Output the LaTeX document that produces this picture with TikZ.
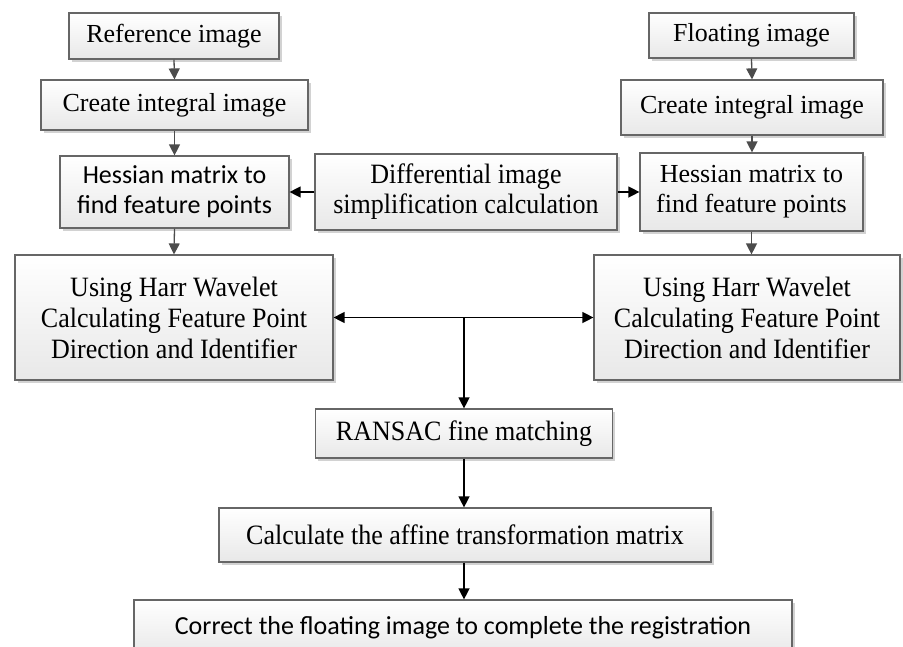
\documentclass[tikz,border=0pt]{standalone}
\usepackage{fontspec}
\setmainfont{Liberation Serif}
\newfontfamily\tallserif{Liberation Serif}[FakeStretch=0.93]
\newfontfamily\calib{Carlito}
\usetikzlibrary{arrows.meta,shadows}
\begin{document}
\begin{tikzpicture}[x=1pt,y=-1pt,
  box/.style={draw=black!60, line width=1.2pt, top color=white, bottom color=black!9,
    drop shadow={shadow xshift=2.5pt,shadow yshift=-2.5pt,fill=black!35,opacity=.5},
    inner sep=0pt, align=center, font=\fontsize{26}{30}\selectfont},
  sansbox/.style={box, font=\calib\fontsize{26}{30}\selectfont},
  tallbox/.style={box, font=\tallserif\fontsize{28}{31}\selectfont},
  garrow/.style={draw=black!70, line width=1.3pt, -{Triangle[length=11pt,width=11pt]}},
  barrow/.style={draw=black, line width=1.3pt, -{Triangle[length=11pt,width=11pt]}},
  bdarrow/.style={draw=black, line width=1.3pt, {Triangle[length=11pt,width=11pt]}-{Triangle[length=11pt,width=11pt]}},
]
\clip (0,0) rectangle (903,646);
\fill[white] (0,0) rectangle (903,646);

% left column
\node[box, minimum width=210pt, minimum height=46pt] (ref) at (174,36) {Reference image};
\node[box, minimum width=267pt, minimum height=50pt] (cil) at (174.5,105) {Create integral image};
\node[sansbox, minimum width=229pt, minimum height=72pt] (hl) at (174.5,192) {Hessian matrix to\\find feature points};
\node[tallbox, minimum width=318pt, minimum height=125pt] (harrl) at (174,317.5) {Using Harr Wavelet\\Calculating Feature Point\\Direction and Identifier};

% middle
\node[tallbox, font=\tallserif\fontsize{28}{30}\selectfont, minimum width=302pt, minimum height=76pt] (diff) at (466,192) {Differential image\\simplification calculation};

% right column
\node[box, minimum width=205pt, minimum height=45pt] (flt) at (751.5,35.5) {Floating image};
\node[box, minimum width=262pt, minimum height=55pt] (cir) at (752,107.5) {Create integral image};
\node[box, minimum width=223pt, minimum height=78pt] (hr) at (751.5,192) {Hessian matrix to\\find feature points};
\node[tallbox, minimum width=306pt, minimum height=125pt] (harrr) at (747,317.5) {Using Harr Wavelet\\Calculating Feature Point\\Direction and Identifier};

% bottom chain
\node[tallbox, minimum width=297pt, minimum height=49pt] (ransac) at (464,433.5) {RANSAC fine matching};
\node[tallbox, minimum width=492pt, minimum height=54pt] (affine) at (465,535) {Calculate the affine transformation matrix};
\node[sansbox, minimum width=658pt, minimum height=56pt] (corr) at (463,628) {Correct the floating image to complete the registration};

\coordinate (j) at (ransac.north |- harrl.east);

% arrows top
\draw[garrow] (ref.south) -- (cil.north);
\draw[garrow] (cil.south) -- (hl.north);
\draw[garrow] (hl.south) -- (harrl.north);
\draw[garrow] (flt.south) -- (cir.north);
\draw[garrow] (cir.south) -- (cir.south |- hr.north);
\draw[garrow] (hr.south) -- (hr.south |- harrr.north);
\draw[barrow] (diff.west) -- (hl.east);
\draw[barrow] (diff.east) -- (hr.west);

% arrows bottom
\draw[bdarrow] (harrl.east) -- (harrr.west);
\draw[barrow] (j) -- (ransac.north);
\draw[barrow] (ransac.south) -- (ransac.south |- affine.north);
\draw[barrow] (ransac.south |- affine.south) -- (ransac.south |- corr.north);
\end{tikzpicture}
\end{document}
